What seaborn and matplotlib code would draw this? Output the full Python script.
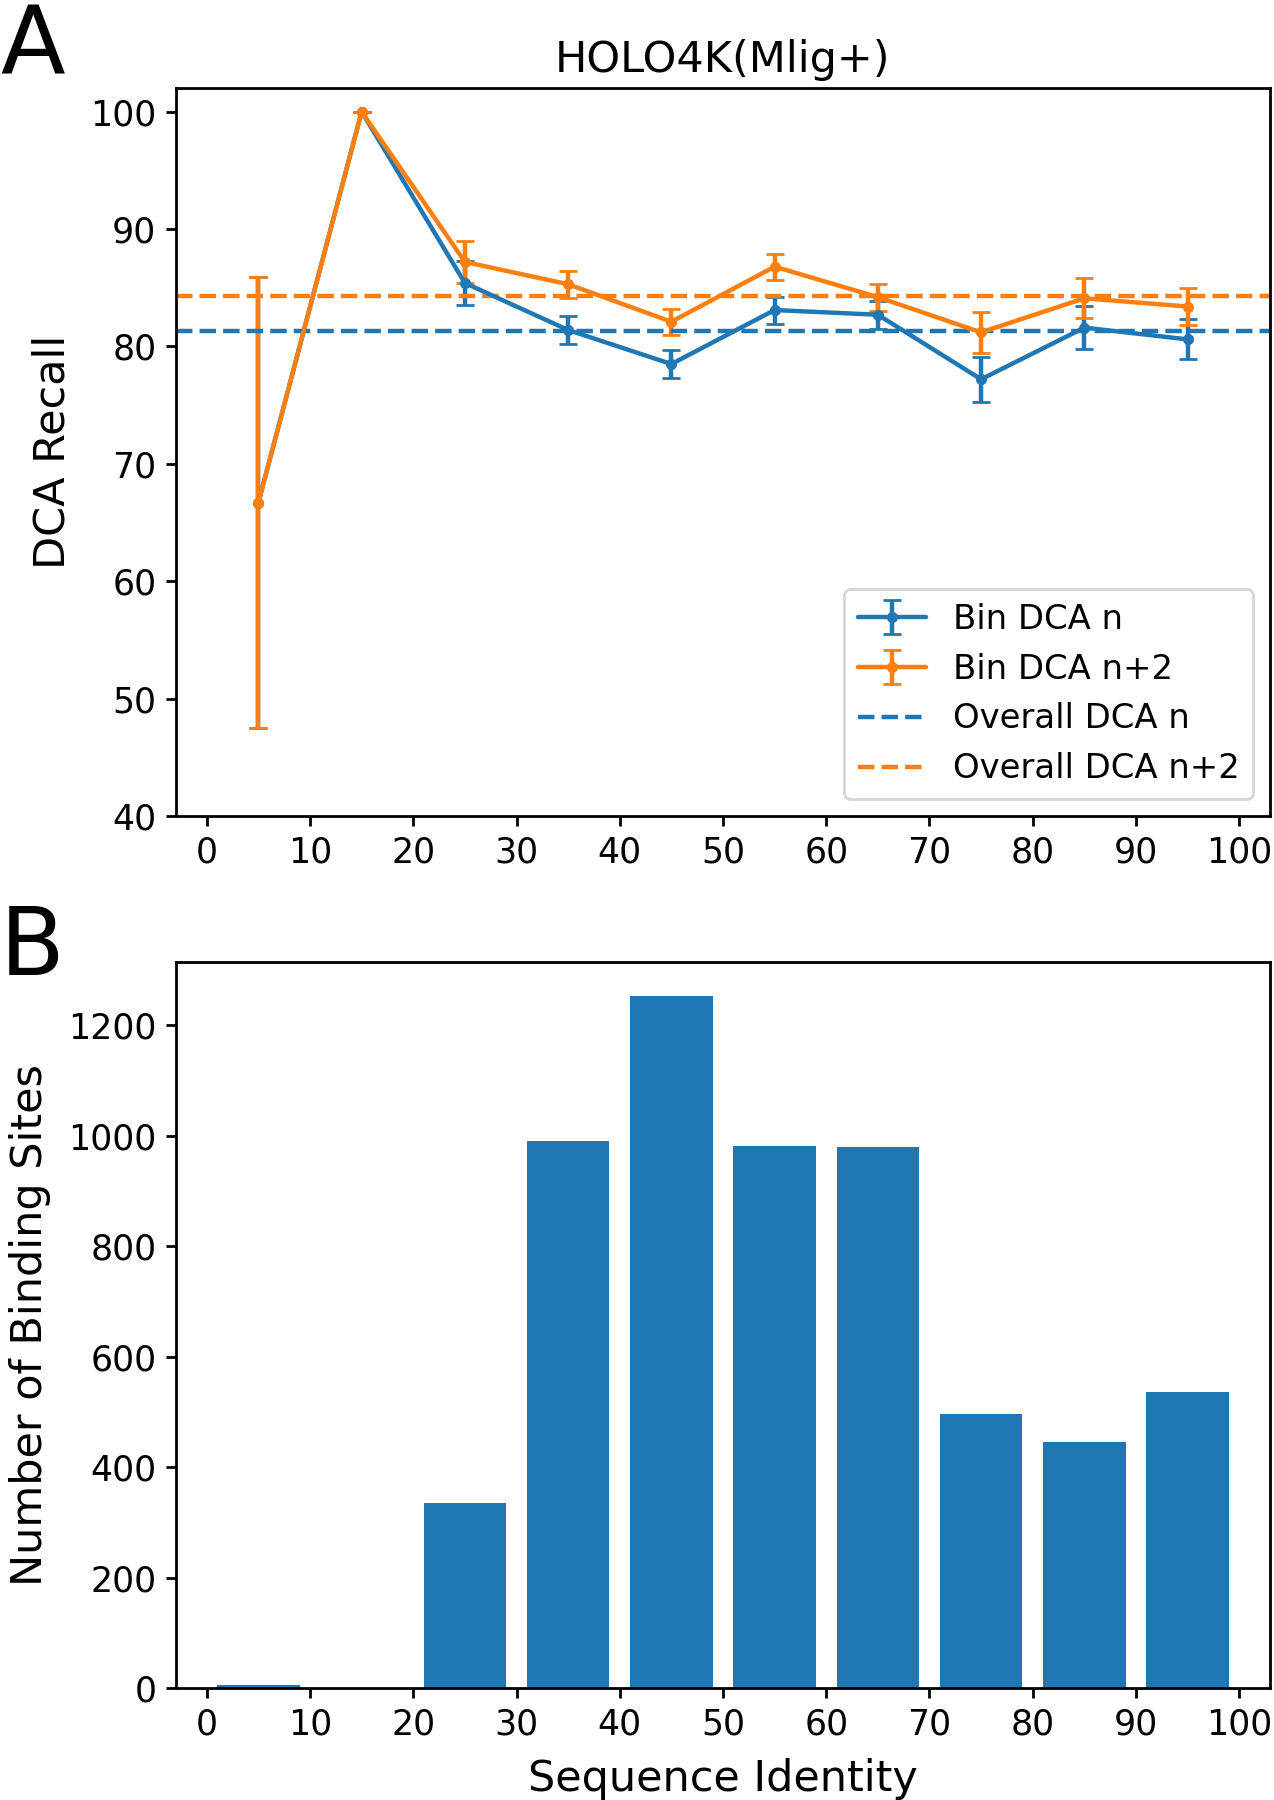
import numpy as np
import pandas as pd
import matplotlib
matplotlib.use("Agg")
import matplotlib.pyplot as plt
import seaborn as sns

# bin centres (sequence identity %)
bin_centers = [5, 15, 25, 35, 45, 55, 65, 75, 85, 95]

# DCA recall per bin, with error bars
recall_n = [66.7, 100.0, 85.4, 81.4, 78.5, 83.1, 82.7, 77.2, 81.6, 80.6]
err_n = [19.2, 0.0, 1.9, 1.2, 1.2, 1.15, 1.2, 1.9, 1.85, 1.7]
recall_n2 = [66.7, 100.0, 87.2, 85.3, 82.1, 86.8, 84.2, 81.2, 84.1, 83.4]
err_n2 = [19.2, 0.0, 1.8, 1.15, 1.1, 1.1, 1.15, 1.75, 1.7, 1.6]

overall_n = 81.3
overall_n2 = 84.3

# number of binding sites per bin
site_counts = [5, 0, 336, 990, 1253, 981, 980, 496, 445, 537]

x_ticks = list(range(0, 101, 10))

sns.set_style("ticks")
plt.rcParams["font.family"] = ["DejaVu Sans"]
plt.rcParams.update({
    "axes.edgecolor": "black",
    "axes.labelcolor": "black",
    "text.color": "black",
    "xtick.color": "black",
    "ytick.color": "black",
    "axes.linewidth": 1.0,
    "xtick.major.width": 1.0,
    "ytick.major.width": 1.0,
    "xtick.major.size": 3.5,
    "ytick.major.size": 3.5,
    "lines.linewidth": 1.6,
    "font.size": 12.5,
    "xtick.labelsize": 12.5,
    "ytick.labelsize": 12.5,
    "axes.labelsize": 15.5,
    "axes.titlesize": 15.5,
    "axes.labelpad": 6,
    "legend.fontsize": 12.2,
})

blue = "#1f77b4"
orange = "#ff7f0e"

fig = plt.figure(figsize=(6.37, 9), dpi=200)
ax1 = fig.add_axes([0.138, 0.5467, 0.859, 0.4043])
ax2 = fig.add_axes([0.138, 0.0622, 0.859, 0.4034])

# panel A: recall per bin
h1 = ax1.errorbar(bin_centers, recall_n, yerr=err_n, fmt=".-", color=blue,
                  capsize=3.2, label="Bin DCA n")
h2 = ax1.errorbar(bin_centers, recall_n2, yerr=err_n2, fmt=".-", color=orange,
                  capsize=3.2, label="Bin DCA n+2")
h3 = ax1.axhline(overall_n, color=blue, linestyle="--", label="Overall DCA n")
h4 = ax1.axhline(overall_n2, color=orange, linestyle="--", label="Overall DCA n+2")
ax1.set_xlim(-3, 103)
ax1.set_ylim(40, 102)
ax1.set_xticks(x_ticks)
ax1.set_yticks(range(40, 101, 10))
ax1.set_ylabel("DCA Recall")
ax1.set_title("HOLO4K(Mlig+)")
ax1.legend(handles=[h1, h2, h3, h4], loc="lower right")

# panel B: binding site counts
counts_df = pd.DataFrame({"identity": bin_centers, "count": site_counts})
sns.barplot(data=counts_df, x="identity", y="count", native_scale=True,
            width=0.8, color=blue, saturation=1, errorbar=None,
            linewidth=0, ax=ax2)
ax2.set_xlim(-3, 103)
ax2.set_xticks(x_ticks)
ax2.set_xticklabels([str(t) for t in x_ticks])
ax2.set_yticks(range(0, 1201, 200))
ax2.set_ylim(0, 1315)
ax2.set_xlabel("Sequence Identity")
ax2.set_ylabel("Number of Binding Sites")

fig.text(0.0, 1 - 75 / 1800, "A", fontsize=34, va="baseline", ha="left")
fig.text(0.0, 1 - 975 / 1800, "B", fontsize=34, va="baseline", ha="left")

fig.savefig("out.png", dpi=200)
